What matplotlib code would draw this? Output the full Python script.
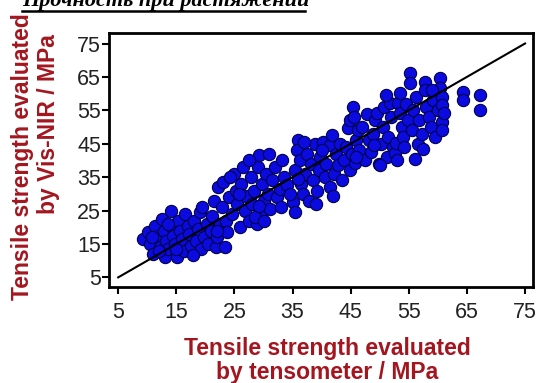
import matplotlib
matplotlib.use("Agg")
import matplotlib.pyplot as plt
from matplotlib.lines import Line2D

# ---- data ----
x_a = [9.2, 10.2, 10.5, 11.0, 11.3, 11.8, 12.2, 12.5, 12.8, 13.0, 13.2, 13.6, 14.0, 14.2, 14.5,
       14.8, 15.2, 15.3, 15.6, 16.0, 16.3, 16.5, 17.0, 17.2, 17.5, 18.0, 18.3, 18.8, 19.0, 19.3,
       19.8, 20.2, 20.5, 21.0, 21.2, 21.8, 22.0, 23.4, 15.0, 12.0, 17.8, 13.5, 19.5, 10.8, 22.5]
y_a = [16.5, 18.6, 15.0, 12.0, 20.5, 17.5, 14.0, 22.5, 19.0, 11.0, 16.0, 13.5, 25.0, 20.0, 17.5,
       15.0, 11.0, 22.0, 19.0, 16.5, 13.0, 24.0, 20.5, 18.0, 14.5, 22.0, 16.0, 19.5, 24.5, 13.5,
       17.0, 21.0, 15.0, 19.0, 23.5, 14.0, 17.0, 14.0, 13.5, 13.0, 11.8, 21.0, 26.0, 17.0, 21.0]

x_b = [21.5, 22.2, 22.8, 23.0, 23.5, 24.0, 24.5, 25.0, 25.2, 25.5, 26.0, 26.2, 26.8, 27.0, 27.5,
       27.8, 28.0, 28.3, 28.8, 29.0, 29.2, 29.5, 29.8, 30.0, 30.5, 30.8, 31.0, 31.2, 31.5, 32.0,
       32.3, 32.8, 33.2, 33.5, 33.0, 24.2, 26.5, 28.5, 30.0, 23.8, 22.0, 25.8, 29.2, 34.0, 27.5]
y_b = [28.0, 32.0, 26.0, 33.5, 22.0, 29.0, 24.0, 36.0, 31.0, 27.0, 20.0, 33.0, 25.0, 29.5, 22.0,
       35.0, 27.0, 31.0, 21.0, 38.0, 41.5, 24.0, 33.0, 28.0, 36.0, 30.0, 42.0, 25.5, 34.0, 38.0,
       29.0, 31.5, 40.0, 35.0, 26.0, 35.0, 38.0, 23.0, 22.0, 18.5, 19.0, 30.0, 26.5, 32.5, 40.0]

x_c = [35.1, 35.4, 35.5, 35.9, 35.8, 36.2, 36.5, 36.8, 37.2, 37.5, 37.8, 38.2, 38.5, 38.8, 39.2,
       39.5, 39.8, 40.2, 40.5, 40.8, 41.4, 41.5, 41.8, 42.2, 42.5, 42.8, 43.2, 43.5, 43.8, 44.2,
       44.5, 44.9, 44.8, 45.2, 45.4, 45.6, 45.7, 46.0, 46.3, 34.5, 36.0, 39.0, 40.0, 37.0, 42.0]
y_c = [27.5, 24.5, 37.0, 46.0, 43.0, 40.0, 33.0, 30.0, 36.0, 42.0, 28.0, 39.0, 34.0, 45.0, 31.0,
       37.0, 41.0, 45.5, 35.0, 39.0, 44.6, 32.0, 47.5, 36.0, 42.0, 38.5, 45.0, 34.0, 40.0, 44.0,
       49.7, 52.0, 37.0, 42.0, 56.0, 53.0, 39.2, 46.0, 49.0, 30.0, 34.5, 27.0, 43.0, 45.5, 29.5]

x_d = [46.5, 47.0, 47.5, 47.8, 48.2, 48.5, 48.8, 49.2, 49.5, 49.8, 50.2, 50.5, 50.8, 51.2, 51.5,
       51.7, 52.0, 52.2, 52.6, 52.8, 53.1, 53.5, 53.8, 54.0, 54.5, 54.8, 55.2, 55.2, 55.5, 55.8,
       56.2, 56.5, 56.8, 57.2, 57.8, 57.8, 58.0, 58.5, 58.8, 59.2, 59.5, 60.0, 60.4, 60.4, 60.8,
       60.8, 60.8, 60.8, 61.0, 59.0, 56.0, 50.0, 53.0, 57.5, 49.0, 51.0, 54.2, 46.0, 53.5,
       64.3, 64.3, 67.2, 67.2]
y_d = [43.0, 50.0, 40.0, 54.0, 46.0, 42.5, 48.0, 52.0, 54.2, 39.0, 45.0, 50.0, 56.0, 41.0, 47.0,
       57.2, 53.0, 44.0, 42.2, 45.2, 57.2, 54.2, 50.0, 47.0, 57.0, 52.0, 66.2, 63.1, 49.0, 55.0,
       59.0, 45.0, 52.0, 48.0, 63.5, 61.1, 56.0, 53.0, 50.0, 58.0, 47.0, 55.0, 64.7, 61.7, 59.0,
       56.6, 51.5, 49.1, 54.2, 61.0, 40.5, 38.5, 40.0, 43.5, 44.5, 59.5, 44.0, 41.0, 60.2,
       60.5, 58.1, 59.6, 55.1]

x_vals = x_a + x_b + x_c + x_d
y_vals = y_a + y_b + y_c + y_d

ideal = [5, 75]
ticks = [5, 15, 25, 35, 45, 55, 65, 75]

red = "#a3161f"

fig = plt.figure(figsize=(5.38, 3.83), dpi=100)
ax = fig.add_axes([0.203, 0.2514, 0.788, 0.6616])

ax.scatter(x_vals, y_vals, s=78, c="#0b0be0", edgecolors="#00004a", linewidths=0.8, zorder=2)
ax.plot(ideal, ideal, color="black", lw=1.5, zorder=3)

ax.set_xlim(3.45, 76.4)
ax.set_ylim(2.2, 78.05)
ax.set_xticks(ticks)
ax.set_yticks(ticks)
ax.tick_params(axis="both", direction="out", length=5, width=1.5, labelsize=15.5,
               colors="black", labelcolor="#222222")
ax.tick_params(axis="x", pad=6)
ax.tick_params(axis="y", pad=1)
for lbl in ax.get_xticklabels() + ax.get_yticklabels():
    lbl.set_family("Liberation Sans")
for sp in ax.spines.values():
    sp.set_linewidth(2)
    sp.set_color("black")

fig.text(0.608, 0.058, "Tensile strength evaluated\nby tensometer / MPa", ha="center", va="center",
         fontsize=16.5, fontweight="bold", color=red, family="Liberation Sans", linespacing=1.05)
fig.text(0.042, 0.592, "Tensile strength evaluated", rotation=90, ha="center", va="center",
         fontsize=16.5, fontweight="bold", color=red, family="Liberation Sans")
fig.text(0.091, 0.677, "by Vis-NIR / MPa", rotation=90, ha="center", va="center",
         fontsize=16.5, fontweight="bold", color=red, family="Liberation Sans")

# cropped caption at the top
fig.text(0.042, 0.984, "Прочность при растяжении", ha="left", va="baseline", fontsize=16,
         fontweight="bold", style="italic", family="Liberation Serif", color="black")
fig.add_artist(Line2D([0.040, 0.567], [0.970, 0.970], color="black", lw=1.8,
                      transform=fig.transFigure))

fig.savefig("out.png", dpi=100)
